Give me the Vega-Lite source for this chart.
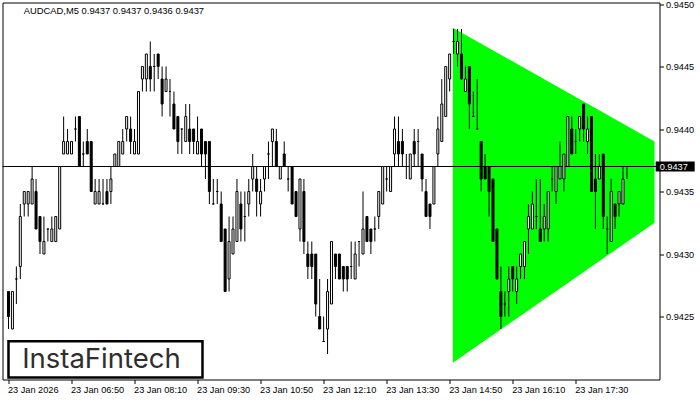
{
  "$schema": "https://vega.github.io/schema/vega-lite/v6.json",
  "width": 657,
  "height": 377,
  "autosize": {"type": "none"},
  "padding": {"left": 2.5, "top": 2.5, "right": 40.5, "bottom": 20.5},
  "background": "white",
  "config": {
    "view": {"stroke": "black", "strokeWidth": 1},
    "axis": {"labelFont": "Liberation Sans", "labelFontSize": 9.2, "labelColor": "black", "tickColor": "black", "domain": false, "grid": false}
  },
  "datasets": {
    "candles": [
      {"time": "2026-01-23T05:30", "open": 0.9427, "high": 0.9427, "low": 0.9424, "close": 0.9425},
      {"time": "2026-01-23T05:35", "open": 0.9424, "high": 0.9427, "low": 0.9424, "close": 0.9427},
      {"time": "2026-01-23T05:40", "open": 0.9428, "high": 0.9429, "low": 0.9426, "close": 0.9428},
      {"time": "2026-01-23T05:45", "open": 0.9429, "high": 0.9434, "low": 0.9428, "close": 0.9433},
      {"time": "2026-01-23T05:50", "open": 0.9434, "high": 0.9435, "low": 0.9433, "close": 0.9435},
      {"time": "2026-01-23T05:55", "open": 0.9434, "high": 0.9435, "low": 0.9433, "close": 0.9435},
      {"time": "2026-01-23T06:00", "open": 0.9434, "high": 0.9437, "low": 0.9434, "close": 0.9436},
      {"time": "2026-01-23T06:05", "open": 0.9435, "high": 0.9436, "low": 0.9432, "close": 0.9432},
      {"time": "2026-01-23T06:10", "open": 0.9433, "high": 0.9433, "low": 0.9430, "close": 0.9431},
      {"time": "2026-01-23T06:15", "open": 0.9430, "high": 0.9433, "low": 0.9430, "close": 0.9431},
      {"time": "2026-01-23T06:20", "open": 0.9432, "high": 0.9432, "low": 0.9431, "close": 0.9432},
      {"time": "2026-01-23T06:25", "open": 0.9431, "high": 0.9433, "low": 0.9431, "close": 0.9432},
      {"time": "2026-01-23T06:30", "open": 0.9431, "high": 0.9433, "low": 0.9431, "close": 0.9433},
      {"time": "2026-01-23T06:35", "open": 0.9432, "high": 0.9437, "low": 0.9432, "close": 0.9437},
      {"time": "2026-01-23T06:40", "open": 0.9438, "high": 0.9441, "low": 0.9438, "close": 0.9439},
      {"time": "2026-01-23T06:45", "open": 0.9438, "high": 0.9440, "low": 0.9438, "close": 0.9439},
      {"time": "2026-01-23T06:50", "open": 0.9438, "high": 0.9439, "low": 0.9438, "close": 0.9439},
      {"time": "2026-01-23T06:55", "open": 0.9440, "high": 0.9441, "low": 0.9439, "close": 0.9440},
      {"time": "2026-01-23T07:00", "open": 0.9441, "high": 0.9441, "low": 0.9437, "close": 0.9437},
      {"time": "2026-01-23T07:05", "open": 0.9438, "high": 0.9439, "low": 0.9437, "close": 0.9438},
      {"time": "2026-01-23T07:10", "open": 0.9439, "high": 0.9440, "low": 0.9438, "close": 0.9438},
      {"time": "2026-01-23T07:15", "open": 0.9439, "high": 0.9439, "low": 0.9435, "close": 0.9435},
      {"time": "2026-01-23T07:20", "open": 0.9434, "high": 0.9436, "low": 0.9434, "close": 0.9435},
      {"time": "2026-01-23T07:25", "open": 0.9434, "high": 0.9436, "low": 0.9434, "close": 0.9435},
      {"time": "2026-01-23T07:30", "open": 0.9434, "high": 0.9436, "low": 0.9434, "close": 0.9434},
      {"time": "2026-01-23T07:35", "open": 0.9435, "high": 0.9436, "low": 0.9434, "close": 0.9434},
      {"time": "2026-01-23T07:40", "open": 0.9435, "high": 0.9437, "low": 0.9434, "close": 0.9436},
      {"time": "2026-01-23T07:45", "open": 0.9437, "high": 0.9438, "low": 0.9437, "close": 0.9438},
      {"time": "2026-01-23T07:50", "open": 0.9437, "high": 0.9439, "low": 0.9437, "close": 0.9439},
      {"time": "2026-01-23T07:55", "open": 0.9438, "high": 0.9440, "low": 0.9438, "close": 0.9439},
      {"time": "2026-01-23T08:00", "open": 0.9440, "high": 0.9441, "low": 0.9439, "close": 0.9441},
      {"time": "2026-01-23T08:05", "open": 0.9440, "high": 0.9441, "low": 0.9438, "close": 0.9439},
      {"time": "2026-01-23T08:10", "open": 0.9438, "high": 0.9440, "low": 0.9438, "close": 0.9439},
      {"time": "2026-01-23T08:15", "open": 0.9438, "high": 0.9443, "low": 0.9438, "close": 0.9443},
      {"time": "2026-01-23T08:20", "open": 0.9444, "high": 0.9445, "low": 0.9443, "close": 0.9445},
      {"time": "2026-01-23T08:25", "open": 0.9444, "high": 0.9446, "low": 0.9443, "close": 0.9446},
      {"time": "2026-01-23T08:30", "open": 0.9445, "high": 0.9447, "low": 0.9443, "close": 0.9444},
      {"time": "2026-01-23T08:35", "open": 0.9445, "high": 0.9446, "low": 0.9443, "close": 0.9445},
      {"time": "2026-01-23T08:40", "open": 0.9446, "high": 0.9446, "low": 0.9444, "close": 0.9445},
      {"time": "2026-01-23T08:45", "open": 0.9444, "high": 0.9445, "low": 0.9441, "close": 0.9442},
      {"time": "2026-01-23T08:50", "open": 0.9443, "high": 0.9445, "low": 0.9443, "close": 0.9444},
      {"time": "2026-01-23T08:55", "open": 0.9443, "high": 0.9444, "low": 0.9441, "close": 0.9443},
      {"time": "2026-01-23T09:00", "open": 0.9442, "high": 0.9443, "low": 0.9440, "close": 0.9440},
      {"time": "2026-01-23T09:05", "open": 0.9441, "high": 0.9441, "low": 0.9438, "close": 0.9439},
      {"time": "2026-01-23T09:10", "open": 0.9440, "high": 0.9440, "low": 0.9438, "close": 0.9440},
      {"time": "2026-01-23T09:15", "open": 0.9439, "high": 0.9442, "low": 0.9439, "close": 0.9441},
      {"time": "2026-01-23T09:20", "open": 0.9440, "high": 0.9442, "low": 0.9438, "close": 0.9439},
      {"time": "2026-01-23T09:25", "open": 0.9440, "high": 0.9440, "low": 0.9438, "close": 0.9439},
      {"time": "2026-01-23T09:30", "open": 0.9438, "high": 0.9441, "low": 0.9438, "close": 0.9439},
      {"time": "2026-01-23T09:35", "open": 0.9440, "high": 0.9440, "low": 0.9437, "close": 0.9438},
      {"time": "2026-01-23T09:40", "open": 0.9439, "high": 0.9439, "low": 0.9436, "close": 0.9438},
      {"time": "2026-01-23T09:45", "open": 0.9439, "high": 0.9439, "low": 0.9434, "close": 0.9435},
      {"time": "2026-01-23T09:50", "open": 0.9434, "high": 0.9436, "low": 0.9434, "close": 0.9434},
      {"time": "2026-01-23T09:55", "open": 0.9435, "high": 0.9436, "low": 0.9434, "close": 0.9435},
      {"time": "2026-01-23T10:00", "open": 0.9434, "high": 0.9435, "low": 0.9431, "close": 0.9431},
      {"time": "2026-01-23T10:05", "open": 0.9432, "high": 0.9432, "low": 0.9427, "close": 0.9427},
      {"time": "2026-01-23T10:10", "open": 0.9428, "high": 0.9433, "low": 0.9427, "close": 0.9431},
      {"time": "2026-01-23T10:15", "open": 0.9430, "high": 0.9433, "low": 0.9430, "close": 0.9432},
      {"time": "2026-01-23T10:20", "open": 0.9431, "high": 0.9436, "low": 0.9431, "close": 0.9435},
      {"time": "2026-01-23T10:25", "open": 0.9434, "high": 0.9435, "low": 0.9431, "close": 0.9432},
      {"time": "2026-01-23T10:30", "open": 0.9433, "high": 0.9435, "low": 0.9431, "close": 0.9433},
      {"time": "2026-01-23T10:35", "open": 0.9434, "high": 0.9436, "low": 0.9433, "close": 0.9435},
      {"time": "2026-01-23T10:40", "open": 0.9436, "high": 0.9438, "low": 0.9435, "close": 0.9437},
      {"time": "2026-01-23T10:45", "open": 0.9436, "high": 0.9437, "low": 0.9433, "close": 0.9435},
      {"time": "2026-01-23T10:50", "open": 0.9434, "high": 0.9436, "low": 0.9433, "close": 0.9435},
      {"time": "2026-01-23T10:55", "open": 0.9436, "high": 0.9437, "low": 0.9435, "close": 0.9437},
      {"time": "2026-01-23T11:00", "open": 0.9438, "high": 0.9439, "low": 0.9436, "close": 0.9438},
      {"time": "2026-01-23T11:05", "open": 0.9439, "high": 0.9440, "low": 0.9437, "close": 0.9440},
      {"time": "2026-01-23T11:10", "open": 0.9439, "high": 0.9440, "low": 0.9437, "close": 0.9437},
      {"time": "2026-01-23T11:15", "open": 0.9436, "high": 0.9437, "low": 0.9436, "close": 0.9437},
      {"time": "2026-01-23T11:20", "open": 0.9438, "high": 0.9439, "low": 0.9437, "close": 0.9437},
      {"time": "2026-01-23T11:25", "open": 0.9436, "high": 0.9437, "low": 0.9435, "close": 0.9436},
      {"time": "2026-01-23T11:30", "open": 0.9437, "high": 0.9437, "low": 0.9434, "close": 0.9434},
      {"time": "2026-01-23T11:35", "open": 0.9435, "high": 0.9435, "low": 0.9433, "close": 0.9433},
      {"time": "2026-01-23T11:40", "open": 0.9432, "high": 0.9436, "low": 0.9431, "close": 0.9436},
      {"time": "2026-01-23T11:45", "open": 0.9435, "high": 0.9436, "low": 0.9430, "close": 0.9431},
      {"time": "2026-01-23T11:50", "open": 0.9430, "high": 0.9431, "low": 0.9428, "close": 0.9429},
      {"time": "2026-01-23T11:55", "open": 0.9430, "high": 0.9431, "low": 0.9428, "close": 0.9429},
      {"time": "2026-01-23T12:00", "open": 0.9430, "high": 0.9430, "low": 0.9425, "close": 0.9426},
      {"time": "2026-01-23T12:05", "open": 0.9425, "high": 0.9428, "low": 0.9424, "close": 0.9424},
      {"time": "2026-01-23T12:10", "open": 0.9423, "high": 0.9425, "low": 0.9423, "close": 0.9423},
      {"time": "2026-01-23T12:15", "open": 0.9424, "high": 0.9428, "low": 0.9422, "close": 0.9427},
      {"time": "2026-01-23T12:20", "open": 0.9426, "high": 0.9431, "low": 0.9426, "close": 0.9431},
      {"time": "2026-01-23T12:25", "open": 0.9430, "high": 0.9430, "low": 0.9428, "close": 0.9429},
      {"time": "2026-01-23T12:30", "open": 0.9430, "high": 0.9430, "low": 0.9428, "close": 0.9428},
      {"time": "2026-01-23T12:35", "open": 0.9429, "high": 0.9429, "low": 0.9427, "close": 0.9428},
      {"time": "2026-01-23T12:40", "open": 0.9429, "high": 0.9429, "low": 0.9427, "close": 0.9428},
      {"time": "2026-01-23T12:45", "open": 0.9429, "high": 0.9431, "low": 0.9428, "close": 0.9429},
      {"time": "2026-01-23T12:50", "open": 0.9428, "high": 0.9431, "low": 0.9428, "close": 0.9430},
      {"time": "2026-01-23T12:55", "open": 0.9431, "high": 0.9431, "low": 0.9429, "close": 0.9431},
      {"time": "2026-01-23T13:00", "open": 0.9430, "high": 0.9435, "low": 0.9430, "close": 0.9432},
      {"time": "2026-01-23T13:05", "open": 0.9433, "high": 0.9433, "low": 0.9431, "close": 0.9431},
      {"time": "2026-01-23T13:10", "open": 0.9432, "high": 0.9432, "low": 0.9430, "close": 0.9431},
      {"time": "2026-01-23T13:15", "open": 0.9432, "high": 0.9433, "low": 0.9431, "close": 0.9432},
      {"time": "2026-01-23T13:20", "open": 0.9433, "high": 0.9435, "low": 0.9432, "close": 0.9435},
      {"time": "2026-01-23T13:25", "open": 0.9434, "high": 0.9437, "low": 0.9434, "close": 0.9437},
      {"time": "2026-01-23T13:30", "open": 0.9436, "high": 0.9437, "low": 0.9435, "close": 0.9436},
      {"time": "2026-01-23T13:35", "open": 0.9435, "high": 0.9437, "low": 0.9435, "close": 0.9437},
      {"time": "2026-01-23T13:40", "open": 0.9438, "high": 0.9441, "low": 0.9437, "close": 0.9440},
      {"time": "2026-01-23T13:45", "open": 0.9439, "high": 0.9441, "low": 0.9437, "close": 0.9438},
      {"time": "2026-01-23T13:50", "open": 0.9439, "high": 0.9440, "low": 0.9437, "close": 0.9438},
      {"time": "2026-01-23T13:55", "open": 0.9437, "high": 0.9438, "low": 0.9436, "close": 0.9437},
      {"time": "2026-01-23T14:00", "open": 0.9436, "high": 0.9438, "low": 0.9436, "close": 0.9438},
      {"time": "2026-01-23T14:05", "open": 0.9439, "high": 0.9440, "low": 0.9437, "close": 0.9438},
      {"time": "2026-01-23T14:10", "open": 0.9439, "high": 0.9440, "low": 0.9437, "close": 0.9439},
      {"time": "2026-01-23T14:15", "open": 0.9438, "high": 0.9438, "low": 0.9435, "close": 0.9436},
      {"time": "2026-01-23T14:20", "open": 0.9435, "high": 0.9436, "low": 0.9433, "close": 0.9433},
      {"time": "2026-01-23T14:25", "open": 0.9434, "high": 0.9434, "low": 0.9432, "close": 0.9433},
      {"time": "2026-01-23T14:30", "open": 0.9434, "high": 0.9437, "low": 0.9434, "close": 0.9437},
      {"time": "2026-01-23T14:35", "open": 0.9438, "high": 0.9441, "low": 0.9437, "close": 0.9440},
      {"time": "2026-01-23T14:40", "open": 0.9439, "high": 0.9444, "low": 0.9439, "close": 0.9442},
      {"time": "2026-01-23T14:45", "open": 0.9441, "high": 0.9445, "low": 0.9441, "close": 0.9445},
      {"time": "2026-01-23T14:50", "open": 0.9444, "high": 0.9446, "low": 0.9443, "close": 0.9446},
      {"time": "2026-01-23T14:55", "open": 0.9447, "high": 0.9448, "low": 0.9446, "close": 0.9447},
      {"time": "2026-01-23T15:00", "open": 0.9446, "high": 0.9448, "low": 0.9445, "close": 0.9447},
      {"time": "2026-01-23T15:05", "open": 0.9446, "high": 0.9448, "low": 0.9444, "close": 0.9444},
      {"time": "2026-01-23T15:10", "open": 0.9443, "high": 0.9445, "low": 0.9443, "close": 0.9444},
      {"time": "2026-01-23T15:15", "open": 0.9445, "high": 0.9445, "low": 0.9440, "close": 0.9442},
      {"time": "2026-01-23T15:20", "open": 0.9441, "high": 0.9443, "low": 0.9441, "close": 0.9441},
      {"time": "2026-01-23T15:25", "open": 0.9440, "high": 0.9444, "low": 0.9440, "close": 0.9440},
      {"time": "2026-01-23T15:30", "open": 0.9439, "high": 0.9439, "low": 0.9435, "close": 0.9436},
      {"time": "2026-01-23T15:35", "open": 0.9437, "high": 0.9438, "low": 0.9436, "close": 0.9436},
      {"time": "2026-01-23T15:40", "open": 0.9437, "high": 0.9437, "low": 0.9433, "close": 0.9435},
      {"time": "2026-01-23T15:45", "open": 0.9436, "high": 0.9436, "low": 0.9431, "close": 0.9431},
      {"time": "2026-01-23T15:50", "open": 0.9432, "high": 0.9432, "low": 0.9428, "close": 0.9428},
      {"time": "2026-01-23T15:55", "open": 0.9427, "high": 0.9429, "low": 0.9424, "close": 0.9425},
      {"time": "2026-01-23T16:00", "open": 0.9426, "high": 0.9427, "low": 0.9425, "close": 0.9426},
      {"time": "2026-01-23T16:05", "open": 0.9427, "high": 0.9429, "low": 0.9425, "close": 0.9428},
      {"time": "2026-01-23T16:10", "open": 0.9429, "high": 0.9429, "low": 0.9427, "close": 0.9428},
      {"time": "2026-01-23T16:15", "open": 0.9427, "high": 0.9429, "low": 0.9426, "close": 0.9428},
      {"time": "2026-01-23T16:20", "open": 0.9429, "high": 0.9430, "low": 0.9428, "close": 0.9430},
      {"time": "2026-01-23T16:25", "open": 0.9429, "high": 0.9431, "low": 0.9428, "close": 0.9431},
      {"time": "2026-01-23T16:30", "open": 0.9432, "high": 0.9434, "low": 0.9430, "close": 0.9433},
      {"time": "2026-01-23T16:35", "open": 0.9432, "high": 0.9435, "low": 0.9432, "close": 0.9434},
      {"time": "2026-01-23T16:40", "open": 0.9433, "high": 0.9436, "low": 0.9432, "close": 0.9433},
      {"time": "2026-01-23T16:45", "open": 0.9432, "high": 0.9436, "low": 0.9431, "close": 0.9431},
      {"time": "2026-01-23T16:50", "open": 0.9432, "high": 0.9434, "low": 0.9431, "close": 0.9433},
      {"time": "2026-01-23T16:55", "open": 0.9432, "high": 0.9435, "low": 0.9431, "close": 0.9435},
      {"time": "2026-01-23T17:00", "open": 0.9436, "high": 0.9437, "low": 0.9435, "close": 0.9436},
      {"time": "2026-01-23T17:05", "open": 0.9435, "high": 0.9437, "low": 0.9434, "close": 0.9437},
      {"time": "2026-01-23T17:10", "open": 0.9436, "high": 0.9439, "low": 0.9436, "close": 0.9437},
      {"time": "2026-01-23T17:15", "open": 0.9436, "high": 0.9438, "low": 0.9435, "close": 0.9438},
      {"time": "2026-01-23T17:20", "open": 0.9437, "high": 0.9441, "low": 0.9437, "close": 0.9441},
      {"time": "2026-01-23T17:25", "open": 0.9440, "high": 0.9441, "low": 0.9438, "close": 0.9438},
      {"time": "2026-01-23T17:30", "open": 0.9439, "high": 0.9440, "low": 0.9438, "close": 0.9439},
      {"time": "2026-01-23T17:35", "open": 0.9440, "high": 0.9441, "low": 0.9439, "close": 0.9441},
      {"time": "2026-01-23T17:40", "open": 0.9442, "high": 0.9442, "low": 0.9439, "close": 0.9440},
      {"time": "2026-01-23T17:45", "open": 0.9439, "high": 0.9441, "low": 0.9438, "close": 0.9440},
      {"time": "2026-01-23T17:50", "open": 0.9441, "high": 0.9441, "low": 0.9435, "close": 0.9435},
      {"time": "2026-01-23T17:55", "open": 0.9436, "high": 0.9438, "low": 0.9432, "close": 0.9435},
      {"time": "2026-01-23T18:00", "open": 0.9436, "high": 0.9438, "low": 0.9436, "close": 0.9437},
      {"time": "2026-01-23T18:05", "open": 0.9438, "high": 0.9438, "low": 0.9432, "close": 0.9433},
      {"time": "2026-01-23T18:10", "open": 0.9432, "high": 0.9433, "low": 0.9430, "close": 0.9432},
      {"time": "2026-01-23T18:15", "open": 0.9431, "high": 0.9436, "low": 0.9431, "close": 0.9435},
      {"time": "2026-01-23T18:20", "open": 0.9434, "high": 0.9434, "low": 0.9432, "close": 0.9433},
      {"time": "2026-01-23T18:25", "open": 0.9434, "high": 0.9435, "low": 0.9433, "close": 0.9435},
      {"time": "2026-01-23T18:30", "open": 0.9434, "high": 0.9437, "low": 0.9434, "close": 0.9436},
      {"time": "2026-01-23T18:35", "open": 0.9437, "high": 0.9437, "low": 0.9436, "close": 0.9437}
    ],
    "triangle": [
      {"time": "2026-01-23T14:54", "upper": 0.94481, "lower": 0.94213},
      {"time": "2026-01-23T19:10", "upper": 0.94390, "lower": 0.94325}
    ]
  },
  "layer": [
    {
      "data": {"name": "triangle"},
      "mark": {"type": "area", "color": "#00ff00", "opacity": 1},
      "encoding": {
        "x": {
          "field": "time", "type": "temporal", "title": null,
          "scale": {"domain": [{"year": 2026, "month": 1, "date": 23, "hours": 5, "minutes": 28, "seconds": 45}, {"year": 2026, "month": 1, "date": 23, "hours": 19, "minutes": 10}]},
          "axis": {
            "orient": "bottom", "title": null,
            "values": [
              {"year": 2026, "month": 1, "date": 23, "hours": 5, "minutes": 30},
              {"year": 2026, "month": 1, "date": 23, "hours": 6, "minutes": 50},
              {"year": 2026, "month": 1, "date": 23, "hours": 8, "minutes": 10},
              {"year": 2026, "month": 1, "date": 23, "hours": 9, "minutes": 30},
              {"year": 2026, "month": 1, "date": 23, "hours": 10, "minutes": 50},
              {"year": 2026, "month": 1, "date": 23, "hours": 12, "minutes": 10},
              {"year": 2026, "month": 1, "date": 23, "hours": 13, "minutes": 30},
              {"year": 2026, "month": 1, "date": 23, "hours": 14, "minutes": 50},
              {"year": 2026, "month": 1, "date": 23, "hours": 16, "minutes": 10},
              {"year": 2026, "month": 1, "date": 23, "hours": 17, "minutes": 30}
            ],
            "labelExpr": "hours(datum.value) == 5 ? '23 Jan 2026' : timeFormat(datum.value, '%d %b %H:%M')",
            "labelAlign": "left", "labelBaseline": "top", "labelPadding": 2, "tickSize": 4,
            "labelOverlap": false, "labelFlush": false, "labelOffset": -1
          }
        },
        "y": {
          "field": "upper", "type": "quantitative", "title": null,
          "scale": {"domain": [0.941996, 0.945012], "zero": false, "nice": false},
          "axis": {
            "orient": "right", "title": null,
            "values": [0.9425, 0.943, 0.9435, 0.944, 0.9445, 0.945],
            "format": ".4f", "tickSize": 4, "labelPadding": 2, "labelBaseline": "middle", "labelAlign": "left"
          }
        },
        "y2": {"field": "lower"}
      }
    },
    {
      "data": {"values": [{"price": 0.9437}]},
      "mark": {"type": "rule", "color": "black", "strokeWidth": 1},
      "encoding": {"y": {"field": "price", "type": "quantitative", "title": null}}
    },
    {
      "data": {"name": "candles"},
      "mark": {"type": "rule", "color": "black", "strokeWidth": 1},
      "encoding": {
        "x": {"field": "time", "type": "temporal", "title": null},
        "y": {"field": "low", "type": "quantitative", "title": null},
        "y2": {"field": "high"}
      }
    },
    {
      "data": {"name": "candles"},
      "mark": {"type": "bar", "width": 2, "stroke": "black", "strokeWidth": 1},
      "encoding": {
        "x": {"field": "time", "type": "temporal", "title": null},
        "y": {"field": "open", "type": "quantitative", "title": null},
        "y2": {"field": "close"},
        "fill": {"condition": {"test": "datum.close < datum.open", "value": "black"}, "value": "white"}
      }
    },
    {
      "data": {"values": [{"price": 0.9437}]},
      "mark": {"type": "rect", "color": "black"},
      "encoding": {
        "x": {"datum": {"year": 2026, "month": 1, "date": 23, "hours": 19, "minutes": 11, "seconds": 30}, "type": "temporal", "title": null},
        "x2": {"datum": {"year": 2026, "month": 1, "date": 23, "hours": 20, "minutes": 1}},
        "y": {"datum": 0.94366, "type": "quantitative", "title": null},
        "y2": {"datum": 0.94374}
      }
    },
    {
      "data": {"values": [{"price": 0.9437}]},
      "mark": {"type": "text", "color": "white", "align": "left", "baseline": "middle", "font": "Liberation Sans", "fontSize": 9.2},
      "encoding": {
        "x": {"datum": {"year": 2026, "month": 1, "date": 23, "hours": 19, "minutes": 16, "seconds": 36}, "type": "temporal", "title": null},
        "y": {"field": "price", "type": "quantitative", "title": null},
        "text": {"field": "price", "type": "quantitative", "format": ".4f"}
      }
    },
    {
      "data": {"values": [{"caption": "AUDCAD,M5  0.9437 0.9437 0.9436 0.9437"}]},
      "mark": {"type": "text", "color": "black", "align": "left", "baseline": "alphabetic", "font": "Liberation Sans", "fontSize": 9.4},
      "encoding": {
        "x": {"datum": {"year": 2026, "month": 1, "date": 23, "hours": 5, "minutes": 49, "seconds": 22}, "type": "temporal", "title": null},
        "y": {"datum": 0.94492, "type": "quantitative", "title": null},
        "text": {"field": "caption", "type": "nominal"}
      }
    },
    {
      "data": {"values": [{"brand": "InstaFintech"}]},
      "mark": {"type": "rect", "fill": "white", "stroke": "black", "strokeWidth": 2.5},
      "encoding": {
        "x": {"datum": {"year": 2026, "month": 1, "date": 23, "hours": 5, "minutes": 30}, "type": "temporal", "title": null},
        "x2": {"datum": {"year": 2026, "month": 1, "date": 23, "hours": 9, "minutes": 36, "seconds": 15}},
        "y": {"datum": 0.942012, "type": "quantitative", "title": null},
        "y2": {"datum": 0.942302}
      }
    },
    {
      "data": {"values": [{"brand": "InstaFintech"}]},
      "mark": {"type": "text", "color": "#2e2e2e", "align": "center", "baseline": "alphabetic", "font": "Inter", "fontSize": 27.5, "fontWeight": 400},
      "encoding": {
        "x": {"datum": {"year": 2026, "month": 1, "date": 23, "hours": 7, "minutes": 28}, "type": "temporal", "title": null},
        "y": {"datum": 0.94209, "type": "quantitative", "title": null},
        "text": {"field": "brand", "type": "nominal"}
      }
    }
  ]
}
